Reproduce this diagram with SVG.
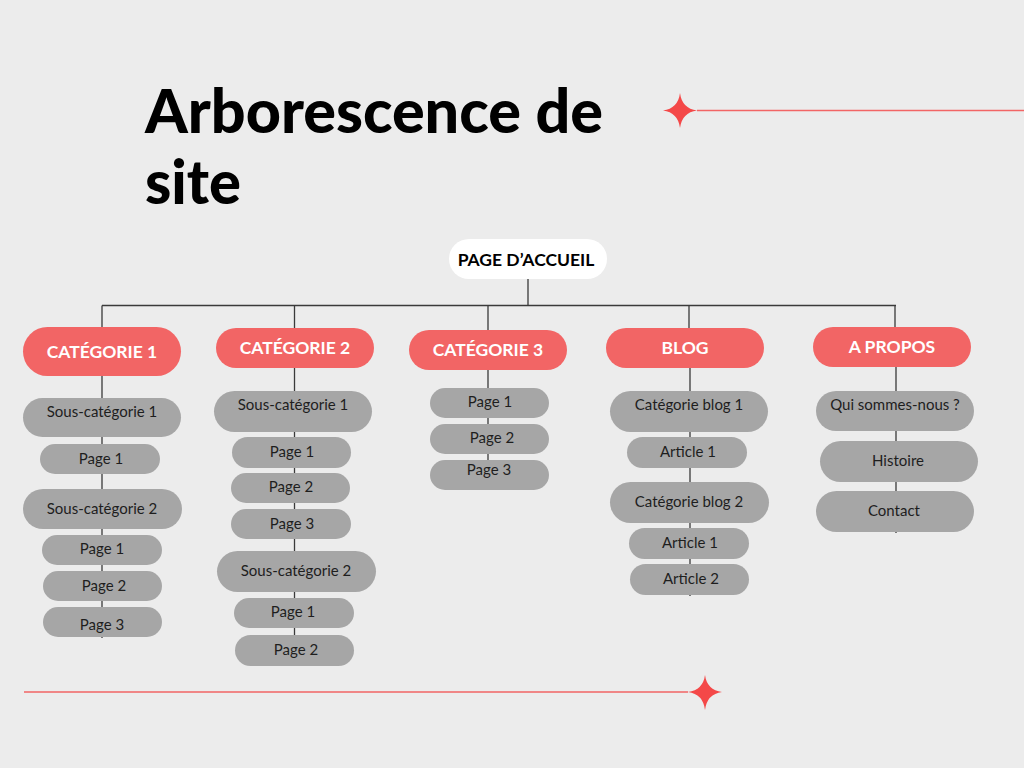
<svg xmlns="http://www.w3.org/2000/svg" width="1024" height="768" viewBox="0 0 1024 768">
<style>
.cat{fill:#f26565}
.sub{fill:#a6a6a6}
.ct{font-family:Lato,"Noto Sans",sans-serif;font-weight:bold;font-size:17.5px;fill:#ffffff;text-anchor:middle}
.st{font-family:Lato,"Noto Sans",sans-serif;font-size:15px;fill:#1e1e1e;text-anchor:middle}
.ln{stroke:#3a3a3a;stroke-width:1.3;fill:none}
.deco{stroke:#f26565;stroke-width:1.5;fill:none}
.star{fill:#f44848}
.title{font-family:Lato,"Liberation Sans",sans-serif;font-weight:900;font-size:60px;fill:#000}
</style>
<rect width="1024" height="768" fill="#ececec"/>
<g id="title">
<text class="title" x="145" y="133" textLength="458" lengthAdjust="spacingAndGlyphs">Arborescence de</text>
<text class="title" x="145" y="204" textLength="96" lengthAdjust="spacingAndGlyphs">site</text>
</g>
<g id="decor">
<line class="deco" x1="697" y1="110.5" x2="1024" y2="110.5"/>
<path class="star" d="M680,93 Q682,108.5 697,110.5 Q682,112.5 680,128 Q678,112.5 663,110.5 Q678,108.5 680,93 Z"/>
<line class="deco" x1="24" y1="692" x2="688" y2="692"/>
<path class="star" d="M705,675 Q707,690 722,692 Q707,694 705,710 Q703,694 688,692 Q703,690 705,675 Z"/>
</g>
<g id="connectors">
<line class="ln" x1="528" y1="279" x2="528" y2="305.5"/>
<line class="ln" x1="102" y1="305.5" x2="896" y2="305.5"/>
<line class="ln" x1="102" y1="305.5" x2="102" y2="327"/>
<line class="ln" x1="294.5" y1="305.5" x2="294.5" y2="328"/>
<line class="ln" x1="488" y1="305.5" x2="488" y2="330"/>
<line class="ln" x1="689" y1="305.5" x2="689" y2="328"/>
<line class="ln" x1="895" y1="305.5" x2="895" y2="327"/>
<line class="ln" x1="102" y1="376" x2="102" y2="638"/>
<line class="ln" x1="294.5" y1="368" x2="294.5" y2="666"/>
<line class="ln" x1="488" y1="370" x2="488" y2="490"/>
<line class="ln" x1="690" y1="368" x2="690" y2="596"/>
<line class="ln" x1="896" y1="367" x2="896" y2="533"/>
</g>
<g id="n-accueil"><rect x="449" y="239" width="158" height="40" rx="20" fill="#ffffff"/><text class="ct" x="526" y="265.5" style="fill:#000;font-size:17.5px">PAGE D’ACCUEIL</text></g>
<g id="n-cat1"><rect class="cat" x="23" y="327" width="158" height="49" rx="24.5"/><text class="ct" x="102" y="357.5">CATÉGORIE 1</text></g>
<g id="n-cat2"><rect class="cat" x="216" y="328" width="158" height="40" rx="20"/><text class="ct" x="295" y="354">CATÉGORIE 2</text></g>
<g id="n-cat3"><rect class="cat" x="409" y="330" width="158" height="40" rx="20"/><text class="ct" x="488" y="356">CATÉGORIE 3</text></g>
<g id="n-blog"><rect class="cat" x="606" y="328" width="158" height="40" rx="20"/><text class="ct" x="685" y="354">BLOG</text></g>
<g id="n-apropos"><rect class="cat" x="813" y="327" width="158" height="40" rx="20"/><text class="ct" x="892" y="353">A PROPOS</text></g>
<g id="n-c1-sc1"><rect class="sub" x="23" y="398" width="158" height="39" rx="19.5"/><text class="st" x="102" y="416.5">Sous-catégorie 1</text></g>
<g id="n-c1-p1"><rect class="sub" x="40" y="444" width="120" height="30" rx="15"/><text class="st" x="101" y="463.5">Page 1</text></g>
<g id="n-c1-sc2"><rect class="sub" x="23" y="489" width="159" height="40" rx="20"/><text class="st" x="102" y="513.5">Sous-catégorie 2</text></g>
<g id="n-c1-sc2-p1"><rect class="sub" x="42" y="535" width="120" height="30" rx="15"/><text class="st" x="102" y="553.5">Page 1</text></g>
<g id="n-c1-sc2-p2"><rect class="sub" x="43" y="571" width="119" height="30" rx="15"/><text class="st" x="104" y="590.5">Page 2</text></g>
<g id="n-c1-sc2-p3"><rect class="sub" x="43" y="607" width="119" height="30" rx="15"/><text class="st" x="102" y="629.5">Page 3</text></g>
<g id="n-c2-sc1"><rect class="sub" x="214" y="391" width="158" height="41" rx="20.5"/><text class="st" x="293" y="409.5">Sous-catégorie 1</text></g>
<g id="n-c2-p1"><rect class="sub" x="232" y="437" width="119" height="31" rx="15.5"/><text class="st" x="292" y="456.5">Page 1</text></g>
<g id="n-c2-p2"><rect class="sub" x="231" y="473" width="119" height="30" rx="15"/><text class="st" x="291" y="491.5">Page 2</text></g>
<g id="n-c2-p3"><rect class="sub" x="231" y="509" width="120" height="30" rx="15"/><text class="st" x="292" y="528.5">Page 3</text></g>
<g id="n-c2-sc2"><rect class="sub" x="217" y="551" width="159" height="41" rx="20.5"/><text class="st" x="296" y="575.5">Sous-catégorie 2</text></g>
<g id="n-c2-sc2-p1"><rect class="sub" x="234" y="598" width="120" height="30" rx="15"/><text class="st" x="293" y="616.5">Page 1</text></g>
<g id="n-c2-sc2-p2"><rect class="sub" x="235" y="635" width="119" height="31" rx="15.5"/><text class="st" x="296" y="654.5">Page 2</text></g>
<g id="n-c3-p1"><rect class="sub" x="430" y="388" width="119" height="30" rx="15"/><text class="st" x="490" y="406.5">Page 1</text></g>
<g id="n-c3-p2"><rect class="sub" x="430" y="424" width="119" height="30" rx="15"/><text class="st" x="492" y="442.5">Page 2</text></g>
<g id="n-c3-p3"><rect class="sub" x="430" y="460" width="119" height="30" rx="15"/><text class="st" x="489" y="474.5">Page 3</text></g>
<g id="n-b-cb1"><rect class="sub" x="610" y="391" width="158" height="41" rx="20.5"/><text class="st" x="689" y="409.5">Catégorie blog 1</text></g>
<g id="n-b-a1"><rect class="sub" x="627" y="437" width="120" height="31" rx="15.5"/><text class="st" x="688" y="456.5">Article 1</text></g>
<g id="n-b-cb2"><rect class="sub" x="610" y="482" width="159" height="41" rx="20.5"/><text class="st" x="689" y="506.5">Catégorie blog 2</text></g>
<g id="n-b-cb2-a1"><rect class="sub" x="629" y="528" width="120" height="31" rx="15.5"/><text class="st" x="690" y="547.5">Article 1</text></g>
<g id="n-b-cb2-a2"><rect class="sub" x="630" y="564" width="119" height="31" rx="15.5"/><text class="st" x="691" y="583.5">Article 2</text></g>
<g id="n-ap-qui"><rect class="sub" x="816" y="391" width="158" height="40" rx="20"/><text class="st" x="895" y="409.5">Qui sommes-nous ?</text></g>
<g id="n-ap-hist"><rect class="sub" x="820" y="441" width="158" height="41" rx="20.5"/><text class="st" x="898" y="465.5">Histoire</text></g>
<g id="n-ap-contact"><rect class="sub" x="816" y="491" width="158" height="41" rx="20.5"/><text class="st" x="894" y="515.5">Contact</text></g>
</svg>
